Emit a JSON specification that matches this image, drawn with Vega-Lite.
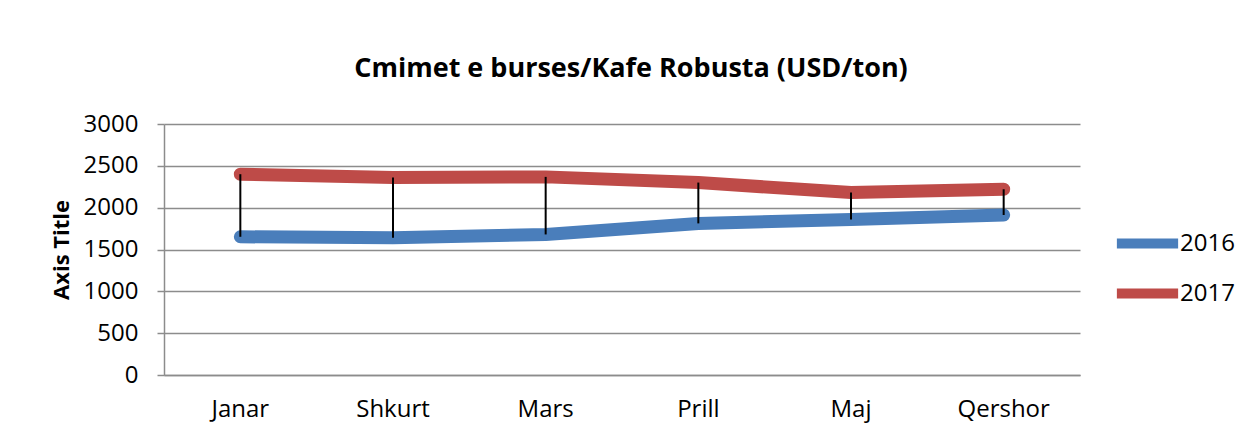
{
  "$schema": "https://vega.github.io/schema/vega-lite/v6.json",
  "autosize": {"type": "none"},
  "width": 916,
  "height": 251,
  "padding": {"left": 164, "top": 124, "right": 168, "bottom": 60},
  "background": "white",
  "title": {
    "text": "Cmimet e burses/Kafe Robusta (USD/ton)",
    "font": "Open Sans",
    "fontSize": 27,
    "fontWeight": "bold",
    "color": "black",
    "anchor": "middle",
    "baseline": "alphabetic",
    "offset": 8,
    "dx": 9
  },
  "data": {
    "values": [
      {"month": "Janar", "2016": 1652, "2017": 2400},
      {"month": "Shkurt", "2016": 1640, "2017": 2360},
      {"month": "Mars", "2016": 1680, "2017": 2368},
      {"month": "Prill", "2016": 1812, "2017": 2300},
      {"month": "Maj", "2016": 1860, "2017": 2180},
      {"month": "Qershor", "2016": 1912, "2017": 2220}
    ]
  },
  "layer": [
    {
      "transform": [{"fold": ["2016", "2017"], "as": ["series", "value"]}],
      "mark": {"type": "line", "strokeWidth": 13, "strokeCap": "round", "strokeJoin": "round"},
      "encoding": {
        "x": {
          "field": "month",
          "type": "nominal",
          "sort": ["Janar", "Shkurt", "Mars", "Prill", "Maj", "Qershor"],
          "scale": {"type": "band", "paddingInner": 0, "paddingOuter": 0},
          "axis": {
            "title": null,
            "labelAngle": 0,
            "ticks": false,
            "labelPadding": 22,
            "labelFontSize": 24,
            "labelFont": "Open Sans",
            "labelColor": "black",
            "domainColor": "#8c8c8c",
            "domainWidth": 1.5,
            "grid": false
          }
        },
        "y": {
          "field": "value",
          "type": "quantitative",
          "scale": {"domain": [0, 3000], "nice": false},
          "axis": {
            "title": "Axis Title",
            "titleFont": "Open Sans",
            "titleFontSize": 22,
            "titleFontWeight": "bold",
            "titleColor": "black",
            "titlePadding": 10,
            "values": [0, 500, 1000, 1500, 2000, 2500, 3000],
            "format": "d",
            "labelFont": "Open Sans",
            "labelFontSize": 24,
            "labelColor": "black",
            "labelPadding": 19,
            "tickSize": 7,
            "tickColor": "#8c8c8c",
            "tickWidth": 1.5,
            "domainColor": "#8c8c8c",
            "domainWidth": 1.5,
            "grid": true,
            "gridColor": "#8c8c8c",
            "gridWidth": 1.5
          }
        },
        "color": {
          "field": "series",
          "type": "nominal",
          "scale": {"domain": ["2016", "2017"], "range": ["#4A7EBB", "#BE4B48"]},
          "legend": {
            "title": null,
            "orient": "none",
            "legendX": 954,
            "legendY": 90,
            "padding": 0,
            "symbolType": "M-1.25,0H1.25",
            "symbolSize": 2401,
            "symbolStrokeWidth": 10,
            "rowPadding": 0,
            "labelOffset": 3,
            "labelFont": "Open Sans",
            "labelFontSize": 24,
            "labelColor": "black"
          }
        }
      }
    },
    {
      "mark": {"type": "rule", "color": "black", "strokeWidth": 2},
      "encoding": {
        "x": {"field": "month", "type": "nominal", "sort": ["Janar", "Shkurt", "Mars", "Prill", "Maj", "Qershor"]},
        "y": {"field": "2017", "type": "quantitative"},
        "y2": {"field": "2016"}
      }
    }
  ],
  "config": {
    "view": {"stroke": null}
  }
}
